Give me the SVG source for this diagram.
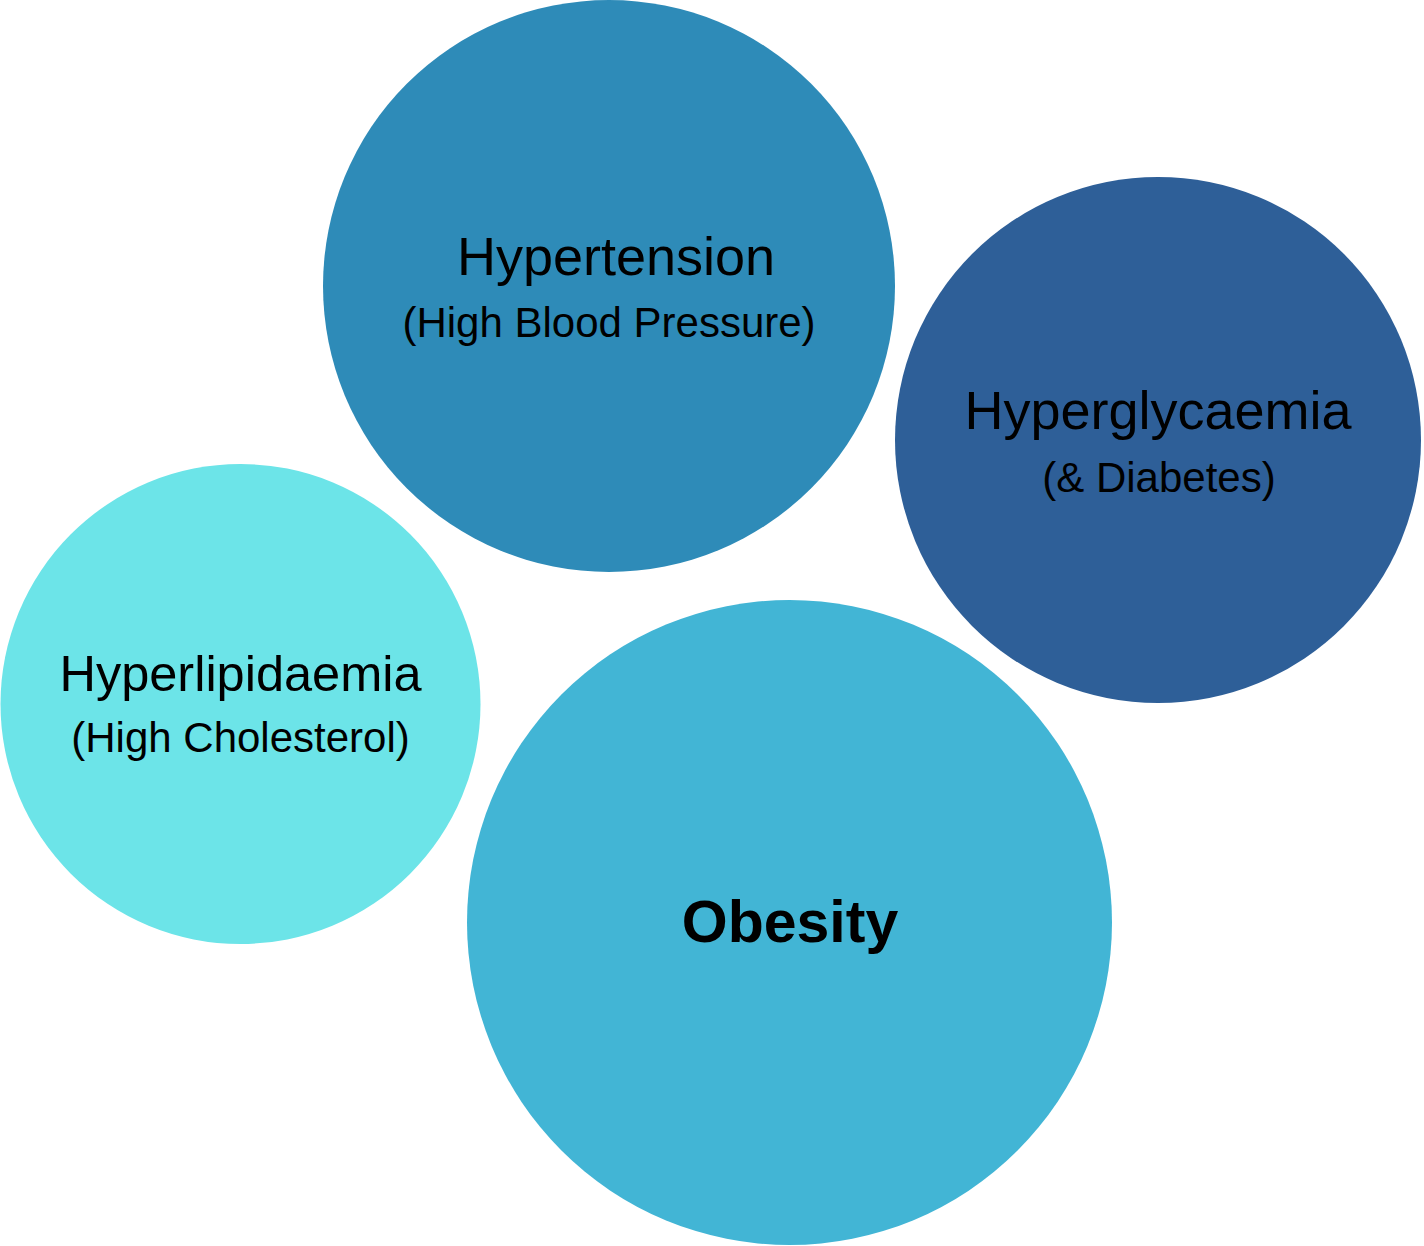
<svg xmlns="http://www.w3.org/2000/svg" width="1424" height="1246" viewBox="0 0 1424 1246">
<style>
text{font-family:"Liberation Sans",Arial,sans-serif;fill:#000;text-anchor:middle}
.t{font-size:54px}
.s{font-size:42px}
.b{font-size:59px;font-weight:bold}
</style>
<rect width="1424" height="1246" fill="#fff"/>
<g id="hypertension">
<circle cx="609" cy="286" r="286" fill="#2E8BB8"/>
<text class="t" x="616" y="275">Hypertension</text>
<text class="s" x="609" y="337">(High Blood Pressure)</text>
</g>
<g id="hyperglycaemia">
<circle cx="1158" cy="440" r="263" fill="#2E5F98"/>
<text class="t" x="1158" y="429">Hyperglycaemia</text>
<text class="s" x="1159" y="492">(&amp; Diabetes)</text>
</g>
<g id="hyperlipidaemia">
<circle cx="240.5" cy="704" r="240" fill="#6CE4E8"/>
<text class="t" x="240.5" y="691" style="font-size:50.5px">Hyperlipidaemia</text>
<text class="s" x="240.5" y="752">(High Cholesterol)</text>
</g>
<g id="obesity">
<circle cx="789.5" cy="922.5" r="322.5" fill="#42B5D5"/>
<text class="b" x="790" y="942">Obesity</text>
</g>
<g id="connectors"></g>
</svg>
